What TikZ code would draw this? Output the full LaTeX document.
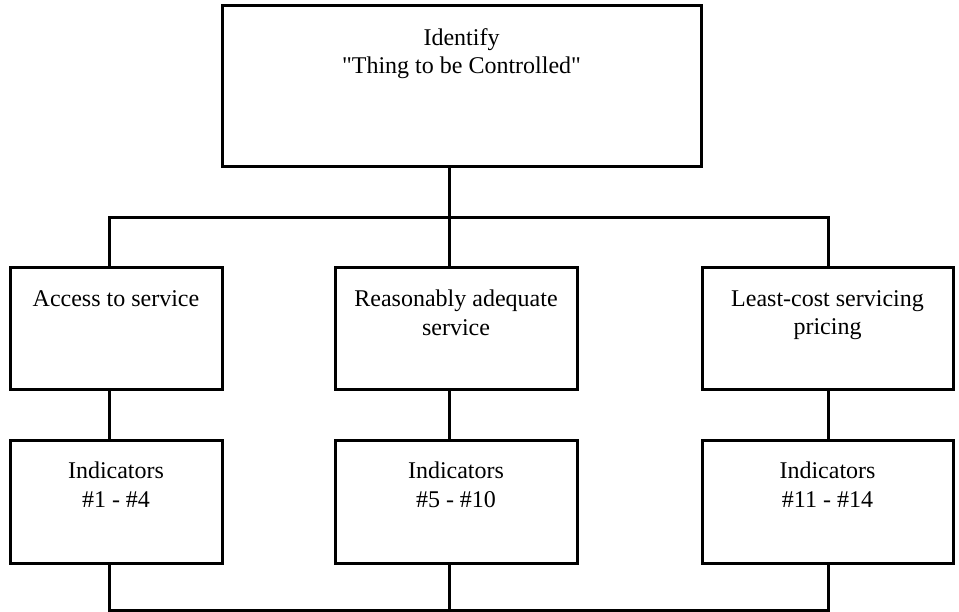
\documentclass[tikz,border=0pt]{standalone}
\usepackage{fontspec}
\setmainfont{Liberation Serif}
\usepackage{tikz}
\usetikzlibrary{positioning}

\begin{document}
\begin{tikzpicture}[x=1pt, y=-1pt, node distance=22pt,
    box/.style={rectangle, draw, line width=3pt, inner sep=0pt, outer sep=0pt},
    boxtext/.style={align=center, inner sep=0pt, font=\fontsize{24}{28.4}\selectfont},
    conn/.style={line width=3pt}]
    \useasboundingbox (0,0) rectangle (959,612);

    % Boxes
    \node[box, minimum width=479pt, minimum height=161pt] (thing) at (461.5,86.5) {};
    \node[box, minimum width=212pt, minimum height=122pt] (access) at (116,329) {};
    \node[box, minimum width=242pt, minimum height=122pt] (adequate) at (456,329) {};
    \node[box, minimum width=251pt, minimum height=122pt] (pricing) at (827.5,329) {};
    \node[box, minimum width=212pt, minimum height=123pt] (indA) at (116,501.5) {};
    \node[box, minimum width=242pt, minimum height=123pt] (indB) at (456,501.5) {};
    \node[box, minimum width=251pt, minimum height=123pt] (indC) at (827.5,501.5) {};

    % Texts
    \node[boxtext, below=of thing.north] (thingtext) {Identify\\\textquotedbl Thing to be Controlled\textquotedbl};
    \node[boxtext, below=of access.north] (accesstext) {Access to service};
    \node[boxtext, below=of adequate.north] (adequatetext) {Reasonably adequate\\service};
    \node[boxtext, below=of pricing.north] (pricingtext) {Least-cost servicing\\pricing};
    \node[boxtext, below=of indA.north] (indAtext) {Indicators\\\#1 - \#4};
    \node[boxtext, below=of indB.north] (indBtext) {Indicators\\\#5 - \#10};
    \node[boxtext, below=of indC.north] (indCtext) {Indicators\\\#11 - \#14};

    % Bus points
    \coordinate (busL) at (109,218);
    \coordinate (busM) at (449,218);
    \coordinate (busR) at (828,218);
    \coordinate (baseL) at (109,610.5);
    \coordinate (baseM) at (449,610.5);
    \coordinate (baseR) at (828,610.5);

    % Connections
    \draw[conn] (thing.south -| busM) -- (adequate.north -| busM);
    \draw[conn] (access.north -| busL) -- (busL) -- (busR) -- (pricing.north -| busR);
    \draw[conn] (access.south -| busL) -- (indA.north -| busL);
    \draw[conn] (adequate.south -| busM) -- (indB.north -| busM);
    \draw[conn] (pricing.south -| busR) -- (indC.north -| busR);
    \draw[conn] (indA.south -| baseL) -- (baseL) -- (baseR) -- (indC.south -| baseR);
    \draw[conn] (indB.south -| baseM) -- (baseM);
\end{tikzpicture}
\end{document}
